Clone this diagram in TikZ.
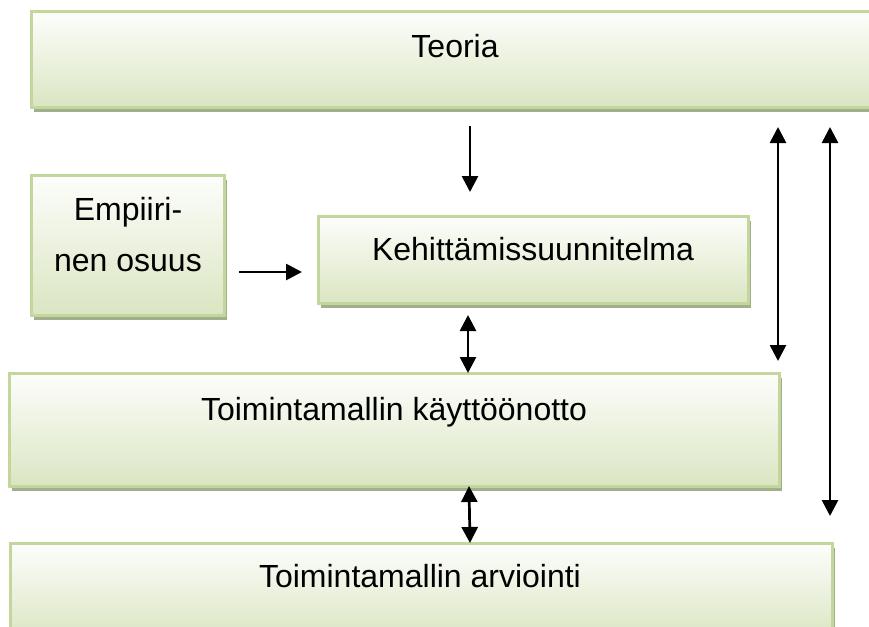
\documentclass[tikz,border=0pt]{standalone}
\usepackage{fontspec}
\setmainfont{Liberation Sans}
\usetikzlibrary{arrows.meta,shadows}
\definecolor{boxborder}{HTML}{C3D69B}
\definecolor{boxbot}{HTML}{D7E3BC}
\definecolor{boxshadow}{HTML}{A3AF8C}
\pgfdeclareverticalshading{boxshade}{100bp}{color(0bp)=(boxbot); color(20bp)=(boxbot); color(78bp)=(white); color(100bp)=(white)}
\tikzset{
  box/.style={draw=boxborder, line width=3pt, shading=boxshade,
    drop shadow={shadow xshift=3pt, shadow yshift=-4.5pt, opacity=1, fill=boxshadow}},
  lbl/.style={anchor=base, font=\fontsize{32}{51}\selectfont, align=center},
  conn/.style={line width=2.7pt, -{Triangle[width=16pt,length=16pt]}},
  dconn/.style={line width=2.7pt, {Triangle[width=16pt,length=16pt]}-{Triangle[width=16pt,length=16pt]}},
}
\begin{document}
\begin{tikzpicture}[x=1pt,y=-1pt]
\clip (0,0) rectangle (869,626);
\fill[white] (0,0) rectangle (869,626);
% boxes
\path[box] (31,12) rectangle (880,107);
\coordinate (teoria) at (450,60);
\path[box] (31,175) rectangle (224,315);
\coordinate (emp) at (128,245);
\path[box] (318,216) rectangle (748,303);
\coordinate (keh) at (533,260);
\path[box] (9,373) rectangle (779,486);
\coordinate (kay) at (394,430);
\path[box] (10,543) rectangle (832,640);
\coordinate (arv) at (421,584);
% texts
\node[lbl] (tTeoria) at (455,57) {Teoria};
\node[lbl, anchor=north] (tEmp) at (128,194) {Empiiri-\\nen osuus};
\node[lbl] (tKeh) at (533,260) {Kehittämissuunnitelma};
\node[lbl] (tKay) at (394,420) {Toimintamallin käyttöönotto};
\node[lbl] (tArv) at (420,587) {Toimintamallin arviointi};
% connector end points
\coordinate (a1s) at (470,126); \coordinate (a1e) at (470,192);
\coordinate (a2s) at (239,272); \coordinate (a2e) at (302,272);
\coordinate (a3s) at (468,315); \coordinate (a3e) at (468,373);
\coordinate (a4s) at (778,127); \coordinate (a4e) at (778,361);
\coordinate (a5s) at (830,127); \coordinate (a5e) at (830,516);
\coordinate (a6s) at (469,486); \coordinate (a6e) at (470,543);
% connectors
\draw[conn] (a1s) -- (a1e);
\draw[conn] (a2s) -- (a2e);
\draw[dconn] (a3s) -- (a3e);
\draw[dconn] (a4s) -- (a4e);
\draw[dconn] (a5s) -- (a5e);
\draw[dconn] (a6s) -- (a6e);
\end{tikzpicture}
\end{document}
